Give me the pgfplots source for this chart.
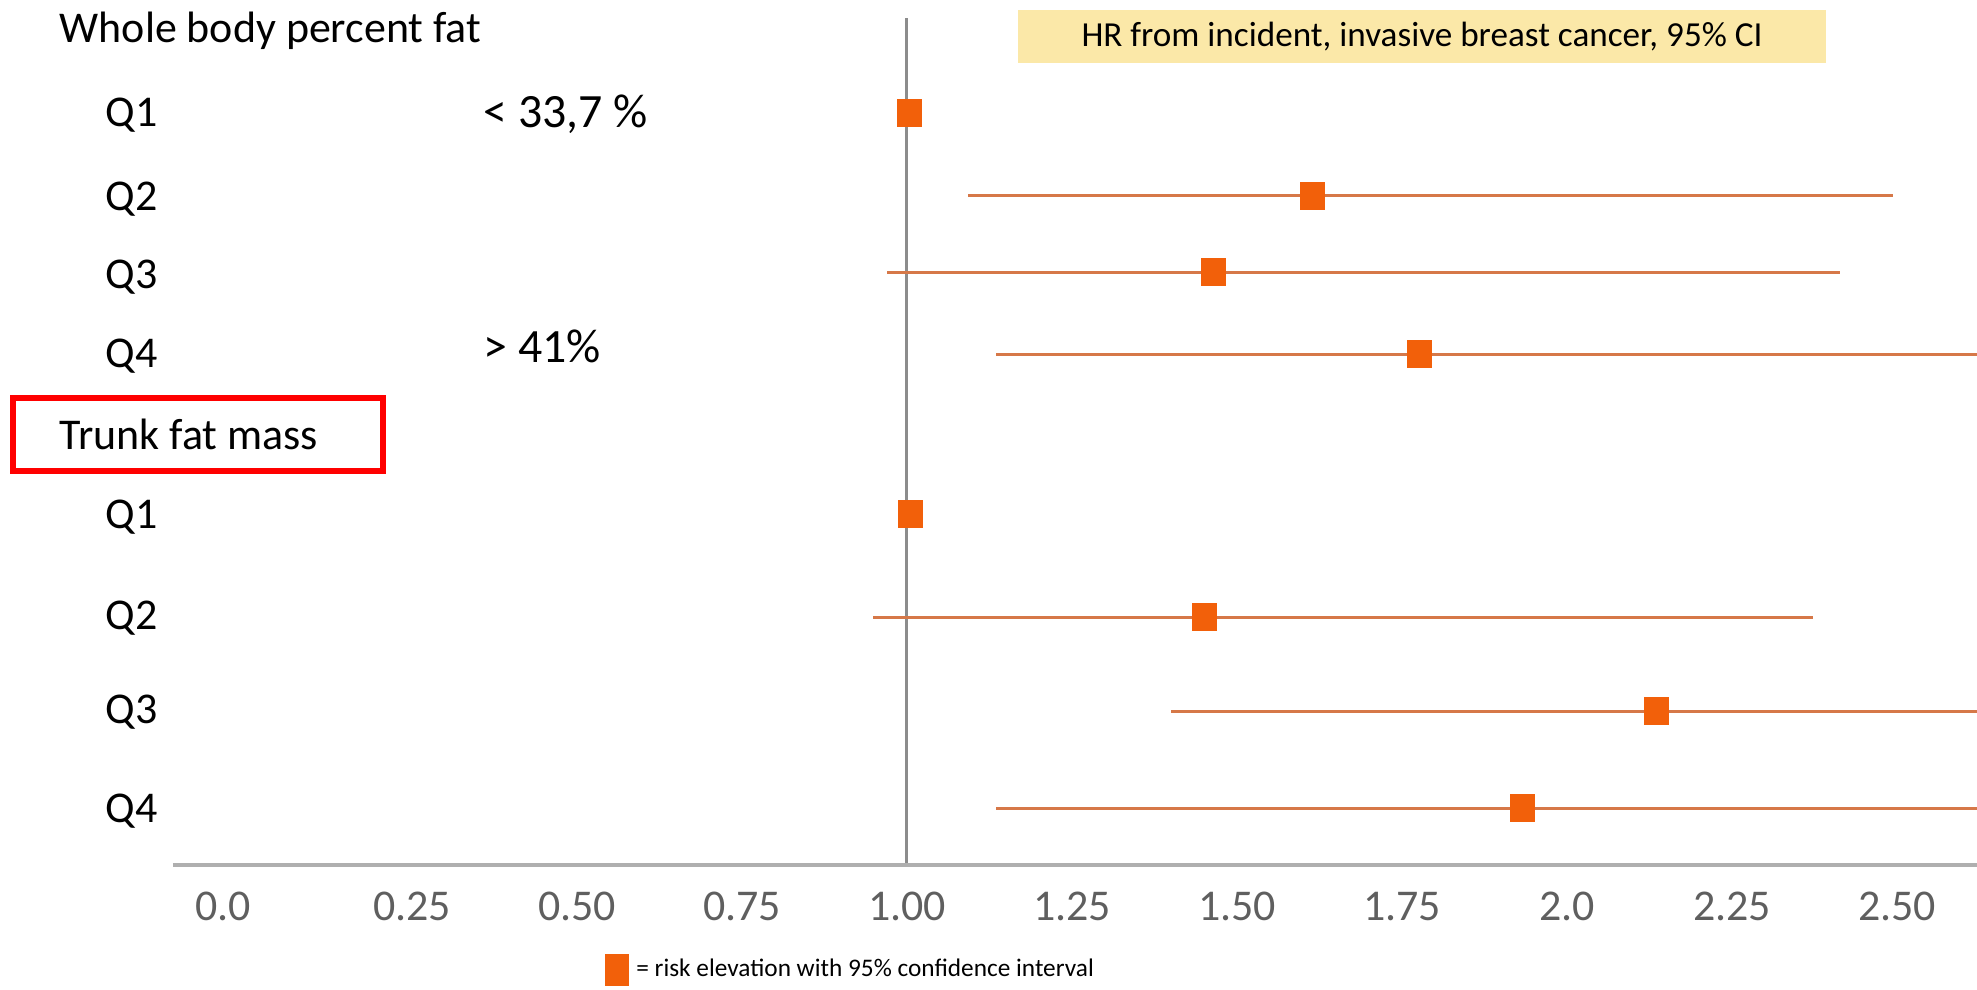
\documentclass[border=0pt]{standalone}
\usepackage{pgfplots}
\pgfplotsset{compat=1.18}
\usepackage{pgfplotstable}
\usepackage{fontspec}
\setmainfont{Carlito}
\definecolor{mk}{RGB}{242,96,10}
\definecolor{ci}{RGB}{214,120,72}
\definecolor{vline}{RGB}{140,140,140}
\definecolor{axl}{RGB}{175,175,175}
\definecolor{tickc}{RGB}{95,95,95}
\definecolor{ybox}{RGB}{251,232,168}

% hr = hazard ratio, y = row position, lo/hi = 95% CI
\pgfplotstableread{
hr    y    lo    hi
1.004 752  1.004 1.004
1.615 669  1.092 2.494
1.464 593  0.970 2.414
1.777 511  1.135 2.700
1.005 351  1.005 1.005
1.450 248  0.948 2.373
2.135 154  1.400 2.750
1.933 57   1.135 2.700
}\hrdata

\begin{document}
\begin{tikzpicture}
\begin{axis}[
  scale only axis,
  width=19.77cm, height=8.75cm,
  xmin=-0.3742, xmax=2.6212,
  ymin=-10, ymax=865,
  axis y line=none,
  axis x line*=bottom,
  x axis line style={draw=none},
  xtick={0.25,0.5,0.75,1,1.25,1.5,1.75,2,2.25,2.5},
  xticklabels={0.25,0.50,0.75,1.00,1.25,1.50,1.75,2.0,2.25,2.50},
  extra x ticks={0},
  extra x tick labels={0.0},
  extra x tick style={xticklabel style={xshift=-2.4mm}},
  major tick length=0pt,
  xticklabel style={font=\fontsize{12.5}{15}\selectfont, text=tickc, anchor=north, yshift=-0.5mm},
  legend style={at={(axis cs:0.5424,-105)}, anchor=west, draw=none, fill=none,
    inner sep=0pt, outer sep=0pt, font=\fontsize{7.2}{8.5}\selectfont,
    /tikz/every even column/.append style={column sep=1mm}},
  every node/.append style={inner sep=0pt},
]
% yellow header box
\fill[ybox] (axis cs:1.1682,802) rectangle (axis cs:2.3924,855);
\node[font=\fontsize{10}{12}\selectfont] at (axis cs:1.7803,828.5) {HR from incident, invasive breast cancer, 95\% CI};

% reference line at HR = 1 and x axis line
\addplot[vline, line width=0.3mm, forget plot] coordinates {(1,0) (1,847)};
\addplot[axl, line width=0.4mm, forget plot] coordinates {(-0.1121,0) (2.7,0)};

% confidence intervals
\addplot[only marks, mark=none, forget plot,
  error bars/.cd, x dir=both, x explicit, error mark=none,
  error bar style={ci, line width=0.3mm}]
  table[x=hr, y=y, x error plus expr=\thisrow{hi}-\thisrow{hr},
        x error minus expr=\thisrow{hr}-\thisrow{lo}] {\hrdata};

% point estimates
\addplot[mk, only marks, mark=square*, mark size=1.2mm,
  mark options={fill=mk, draw=mk, line width=0pt, yscale=1.15},
  legend image code/.code={\fill[mk] (0mm,-1.5mm) rectangle (2.3mm,1.5mm);}]
  table[x=hr, y=y] {\hrdata};
\addlegendentry{= risk elevation with 95\% confidence interval}

% row labels
\node[anchor=base west, inner sep=0pt, font=\fontsize{12.5}{15}\selectfont] at (axis cs:-0.2848,822) {Whole body percent fat};
\node[anchor=base west, inner sep=0pt, font=\fontsize{12.5}{15}\selectfont] at (axis cs:-0.2152,738) {Q1};
\node[anchor=base west, inner sep=0pt, font=\fontsize{12.5}{15}\selectfont] at (axis cs:-0.2152,655) {Q2};
\node[anchor=base west, inner sep=0pt, font=\fontsize{12.5}{15}\selectfont] at (axis cs:-0.2152,577) {Q3};
\node[anchor=base west, inner sep=0pt, font=\fontsize{12.5}{15}\selectfont] at (axis cs:-0.2152,498) {Q4};
\node[anchor=base west, inner sep=0pt, font=\fontsize{12.5}{15}\selectfont] at (axis cs:-0.2848,416) {Trunk fat mass};
\node[anchor=base west, inner sep=0pt, font=\fontsize{12.5}{15}\selectfont] at (axis cs:-0.2152,337) {Q1};
\node[anchor=base west, inner sep=0pt, font=\fontsize{12.5}{15}\selectfont] at (axis cs:-0.2152,236) {Q2};
\node[anchor=base west, inner sep=0pt, font=\fontsize{12.5}{15}\selectfont] at (axis cs:-0.2152,142) {Q3};
\node[anchor=base west, inner sep=0pt, font=\fontsize{12.5}{15}\selectfont] at (axis cs:-0.2152,43) {Q4};
\node[anchor=base west, inner sep=0pt, font=\fontsize{13.6}{16}\selectfont] at (axis cs:0.3576,737) {< 33,7 \%};
\node[anchor=base west, inner sep=0pt, font=\fontsize{13.6}{16}\selectfont] at (axis cs:0.3576,503) {> 41\%};

% red highlight box
\draw[red, line width=0.6mm] (axis cs:-0.3545,394) rectangle (axis cs:0.2061,467);
\end{axis}
\path (current axis.south west) ++(0,-11.4mm) (current axis.north east);
\end{tikzpicture}
\end{document}
